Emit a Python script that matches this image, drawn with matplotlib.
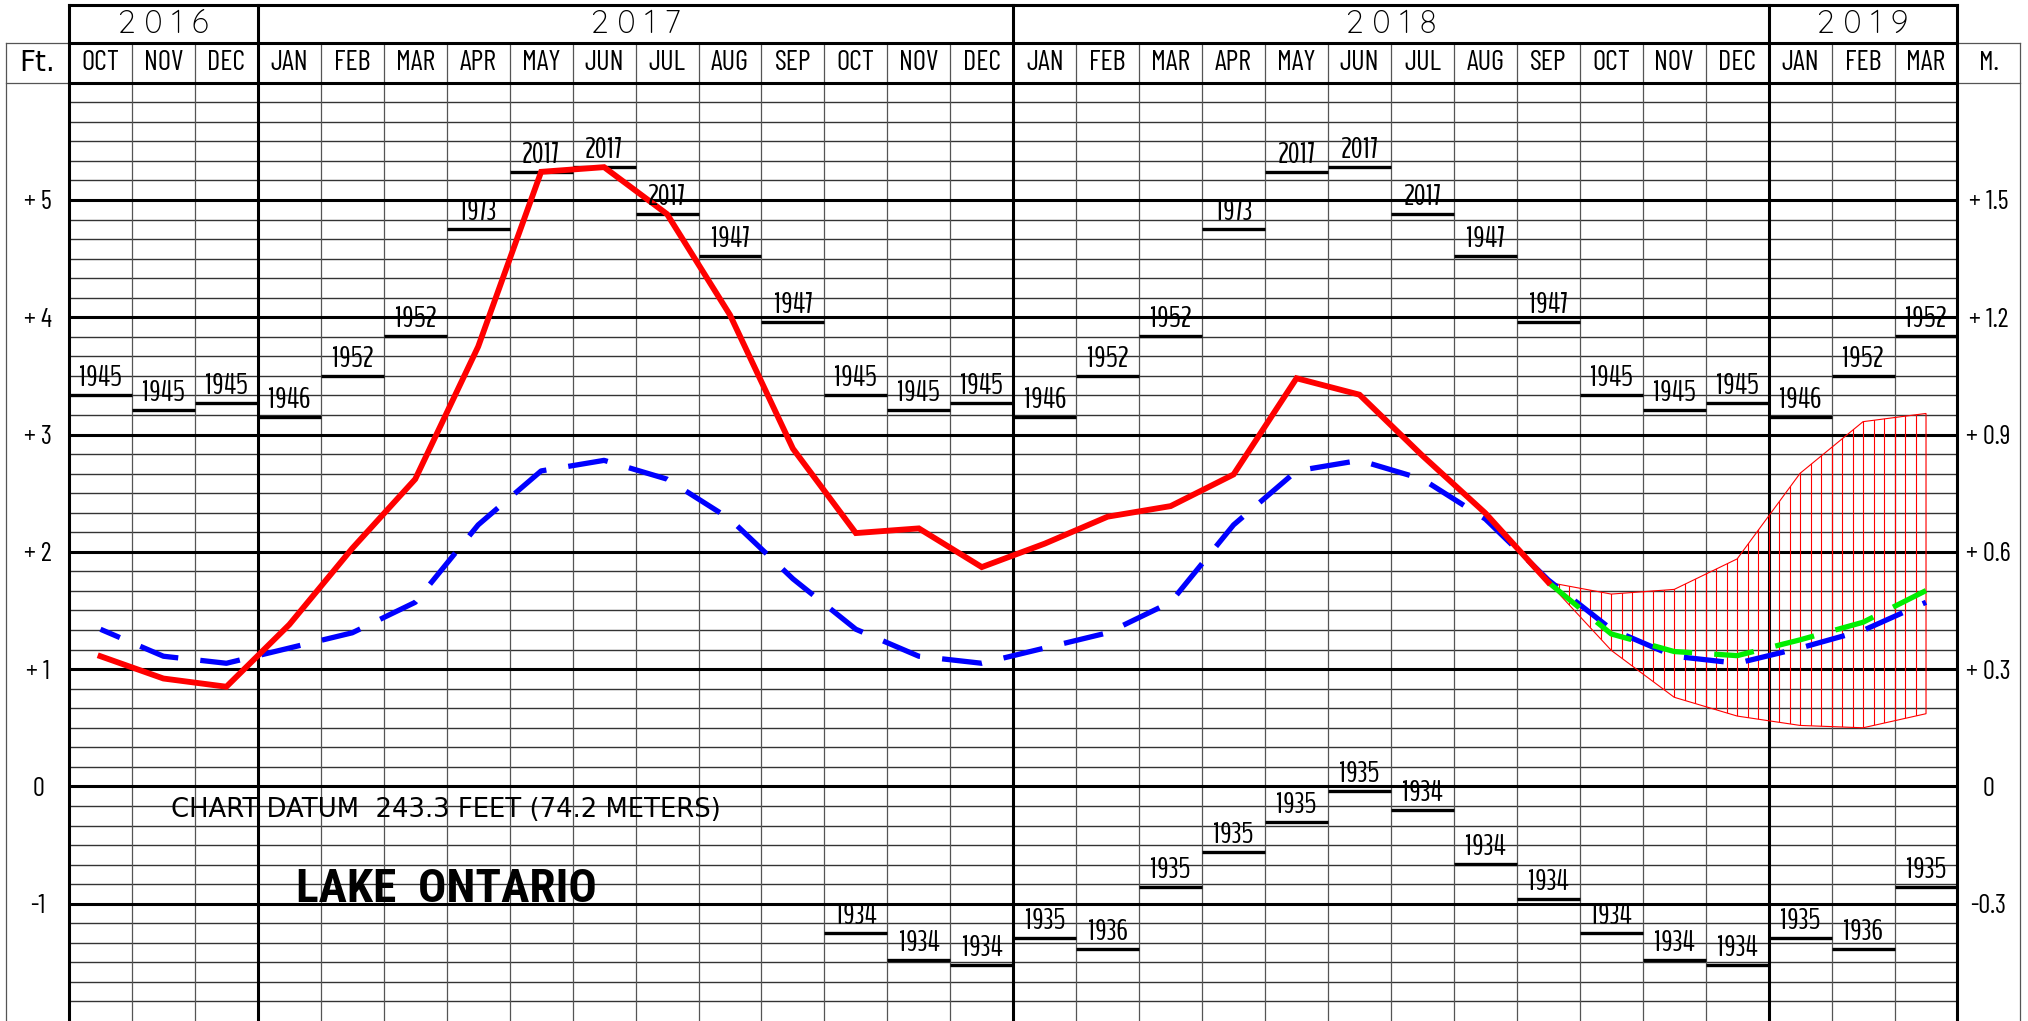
import numpy as np
import matplotlib
matplotlib.use('Agg')
import matplotlib.pyplot as plt
from matplotlib import font_manager
from matplotlib.transforms import blended_transform_factory

W, H, DPI = 2028, 1021, 100

# months shown along the top, Oct 2016 .. Mar 2019
months = ['OCT', 'NOV', 'DEC',
          'JAN', 'FEB', 'MAR', 'APR', 'MAY', 'JUN', 'JUL', 'AUG', 'SEP', 'OCT', 'NOV', 'DEC',
          'JAN', 'FEB', 'MAR', 'APR', 'MAY', 'JUN', 'JUL', 'AUG', 'SEP', 'OCT', 'NOV', 'DEC',
          'JAN', 'FEB', 'MAR']
years = ['2016', '2017', '2018', '2019']
cal = ['JAN', 'FEB', 'MAR', 'APR', 'MAY', 'JUN', 'JUL', 'AUG', 'SEP', 'OCT', 'NOV', 'DEC']

# monthly record levels (ft above chart datum) and the year they were set
rec_high = [3.15, 3.50, 3.84, 4.75, 5.24, 5.28, 4.88, 4.52, 3.96, 3.34, 3.21, 3.27]
rec_high_yr = [1946, 1952, 1952, 1973, 2017, 2017, 2017, 1947, 1947, 1945, 1945, 1945]
rec_low = [-1.29, -1.39, -0.86, -0.56, -0.30, -0.04, -0.20, -0.66, -0.96, -1.25, -1.48, -1.52]
rec_low_yr = [1935, 1936, 1935, 1935, 1935, 1935, 1934, 1934, 1934, 1934, 1934, 1934]

# recorded monthly means, Oct 2016 .. Sep 2018
recorded = [1.11, 0.92, 0.85,
            1.38, 2.03, 2.62, 3.75, 5.24, 5.28, 4.88, 4.02, 2.88, 2.16, 2.20, 1.87,
            2.07, 2.30, 2.39, 2.66, 3.48, 3.34, 2.82, 2.33, 1.74]

# long term average, Oct 2016 .. Mar 2019
average = [1.34, 1.11, 1.05,
           1.18, 1.31, 1.57, 2.23, 2.69, 2.78, 2.62, 2.28, 1.77, 1.34, 1.11, 1.05,
           1.18, 1.31, 1.57, 2.23, 2.69, 2.78, 2.62, 2.28, 1.76, 1.34, 1.11, 1.05,
           1.18, 1.33, 1.57]

# forecast Sep 2018 .. Mar 2019
fc_start = 23
fc_probable = [1.74, 1.30, 1.15, 1.115, 1.25, 1.40, 1.67]
fc_high = [1.74, 1.64, 1.68, 1.94, 2.67, 3.11, 3.18]
fc_low = [1.74, 1.16, 0.76, 0.60, 0.52, 0.50, 0.62]

ft_ticks = [5, 4, 3, 2, 1, 0, -1]
ft_labels = ['+ 5', '+ 4', '+ 3', '+ 2', '+ 1', '0', '-1']
m_labels = ['+ 1.5', '+ 1.2', '+ 0.9', '+ 0.6', '+ 0.3', '0', '-0.3']

names = {f.name for f in font_manager.fontManager.ttflist}
def pick(*cands):
    for c in cands:
        if c in names:
            return c
    return 'DejaVu Sans'
thin = pick('Barlow Condensed', 'Roboto Condensed', 'DejaVu Sans')
digits = pick('BenchNine', 'Barlow Condensed', 'Roboto Condensed', 'DejaVu Sans')
round_ = pick('Quicksand', 'Didact Gothic', 'Questrial', 'DejaVu Sans')
heavy = pick('Roboto Condensed', 'Archivo Narrow', 'DejaVu Sans')

fig = plt.figure(figsize=(W / DPI, H / DPI), dpi=DPI)
top_px = 82.7
ax = fig.add_axes([69 / W, 0, (1957.5 - 69) / W, (H - top_px) / H])
ax.set_xlim(0, 30)
ax.set_ylim(-2, 6)
for s in ax.spines.values():
    s.set_visible(False)

n = len(months)
x = np.arange(n) + 0.5

# grid: every 2 inches, heavy on whole feet
for k in range(-11, 36):
    if k % 6 == 0:
        ax.axhline(k / 6, color='k', lw=2.2, zorder=2)
    else:
        ax.axhline(k / 6, color='#333333', lw=1.0, zorder=1)

tr = blended_transform_factory(ax.transData, ax.transAxes)
row1, row2 = 1.042, 1.0828
jan = [i for i in range(1, n) if months[i] == 'JAN']
for b in range(1, n):
    if b in jan:
        continue
    ax.plot([b, b], [0, row1], transform=tr, clip_on=False, color='#555555', lw=0.9, zorder=1)
for b in [0, n] + jan:
    ax.plot([b, b], [0, row2], transform=tr, clip_on=False, color='k', lw=2.2,
            solid_capstyle='projecting', zorder=3)
for yy in [1.0, row1, row2]:
    ax.plot([0, n], [yy, yy], transform=tr, clip_on=False, color='k', lw=2.2,
            solid_capstyle='projecting', zorder=3)

# side boxes for the unit scales
for xe, xi in [(-1, 0), (n + 1, n)]:
    ax.plot([xe, xe], [0, row1], transform=tr, clip_on=False, color='#555555', lw=0.9)
    ax.plot([xe, xi], [row1, row1], transform=tr, clip_on=False, color='#555555', lw=0.9)
    ax.plot([xe, xi], [1.0, 1.0], transform=tr, clip_on=False, color='#555555', lw=0.9)
ax.text(-0.5, 1.0207, 'Ft.', transform=tr, ha='center', va='center', fontsize=20,
        family='DejaVu Sans')
ax.text(n + 0.5, 1.0207, 'M.', transform=tr, ha='center', va='center', fontsize=20,
        family=thin)

# year headers
edges = [0] + jan + [n]
for yr, a, b in zip(years, edges[:-1], edges[1:]):
    ax.text((a + b) / 2, 1.0615, ' '.join(yr), transform=tr, ha='center', va='center',
            fontsize=23, family=round_, fontweight='light')

ax.set_xticks(x, months)
ax.xaxis.tick_top()
ax.tick_params(axis='x', length=0, pad=14, labelsize=20.5)
for t in ax.get_xticklabels():
    t.set_va('center')
    t.set_family(thin)

ax.set_yticks(ft_ticks, ft_labels)
ax.tick_params(axis='y', length=0, pad=22.3, labelsize=19)
for t in ax.get_yticklabels():
    t.set_ha('center')
    t.set_family(thin)
ax2 = ax.twinx()
ax2.set_ylim(-2, 6)
for s in ax2.spines.values():
    s.set_visible(False)
ax2.set_yticks(ft_ticks, m_labels)
ax2.tick_params(axis='y', length=0, pad=22.3, labelsize=19)
for t in ax2.get_yticklabels():
    t.set_ha('center')
    t.set_family(thin)

# record highs over every month, record lows from Oct 2017 on
hi = [rec_high[cal.index(m)] for m in months]
hi_yr = [rec_high_yr[cal.index(m)] for m in months]
lo = [rec_low[cal.index(m)] for m in months]
lo_yr = [rec_low_yr[cal.index(m)] for m in months]
ax.hlines(hi, x - 0.5, x + 0.5, colors='k', lw=2.4, zorder=3)
for xi, v, yr in zip(x, hi, hi_yr):
    ax.annotate(str(yr), (xi, v), xytext=(0, 6.5), textcoords='offset points',
                ha='center', va='baseline', fontsize=21, family=digits, zorder=8)
low_from = 12
ax.hlines(lo[low_from:], x[low_from:] - 0.5, x[low_from:] + 0.5, colors='k', lw=2.4, zorder=3)
for xi, v, yr in zip(x[low_from:], lo[low_from:], lo_yr[low_from:]):
    ax.annotate(str(yr), (xi, v), xytext=(0, 6.5), textcoords='offset points',
                ha='center', va='baseline', fontsize=21, family=digits, zorder=8)

# forecast range, hatched with vertical strokes
fx = x[fc_start:fc_start + len(fc_probable)]
px = np.concatenate([fx, fx[::-1]])
py = np.concatenate([fc_high, fc_low[::-1]])
patch = ax.fill(px, py, facecolor='none', edgecolor='red', lw=0.8, zorder=4)[0]
hx = np.arange(fx[0], fx[-1] + 1e-6, 1 / 6)
hl = ax.vlines(hx, -2, 6, colors='red', lw=0.8, zorder=4)
hl.set_clip_path(patch)

ax.plot(x, average, color='#0000ff', lw=3.8, linestyle=(3.6, (7.6, 4.2)),
        dash_capstyle='butt', zorder=5)
ax.plot(fx, fc_probable, color='#00ee00', lw=3.8, linestyle=(0, (7.6, 4.2)),
        dash_capstyle='butt', zorder=6)
ax.plot(x[:len(recorded)], recorded, color='#ff0000', lw=4.2,
        solid_joinstyle='miter', zorder=7)

ax.text(1.615, -0.257, 'CHART DATUM  243.3 FEET (74.2 METERS)', ha='left', va='baseline',
        fontsize=18.6, family='DejaVu Sans', zorder=8)
ax.text(3.6, -0.982, 'LAKE  ONTARIO', ha='left', va='baseline', fontsize=34,
        family=heavy, fontweight='bold', zorder=8)

fig.savefig('out.png', dpi=DPI)
